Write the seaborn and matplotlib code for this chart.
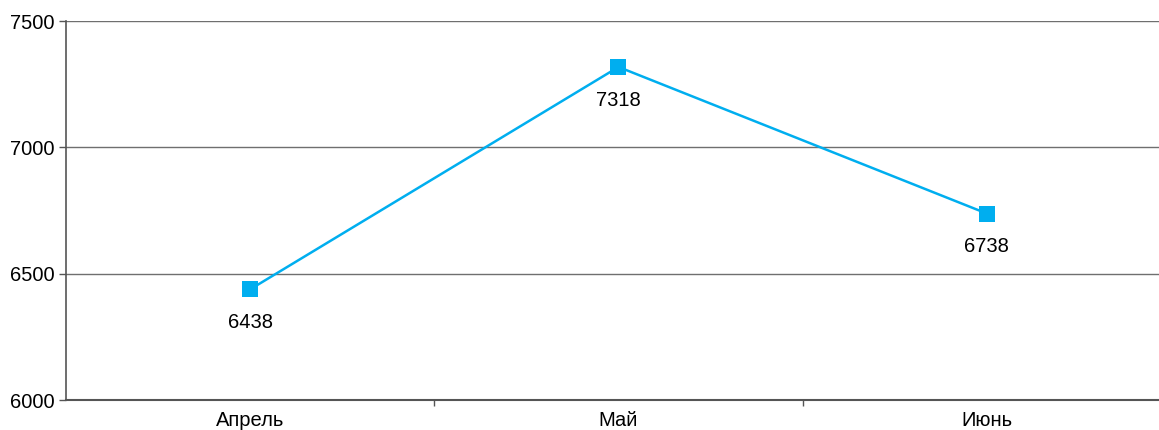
import matplotlib
matplotlib.use("Agg")
import matplotlib.pyplot as plt
import seaborn as sns
import pandas as pd

months = ["Апрель", "Май", "Июнь"]
values = [6438, 7318, 6738]

sns.set_style("white")
plt.rcParams['font.family'] = ['Liberation Sans', 'DejaVu Sans']

df = pd.DataFrame({"month": months, "value": values})

fig = plt.figure(figsize=(11.59, 4.30), dpi=100)
ax = fig.add_axes([66 / 1159, 30 / 430, 1105 / 1159, 379 / 430])

sns.lineplot(data=df, x="month", y="value", ax=ax, sort=False,
             color="#00aeef", linewidth=1.8, marker="s", markersize=11,
             markeredgewidth=0, zorder=3)

for i, v in enumerate(values):
    ax.annotate(str(v), (i, v), xytext=(0, -24), textcoords="offset points",
                ha="center", va="center", fontsize=14.5, color="black")

ax.set_xlim(-0.5, 2.5)
ax.set_ylim(6000, 7500)
ax.set_yticks([6000, 6500, 7000, 7500])
ax.yaxis.grid(True, color="#6f6f6f", linewidth=1)
ax.set_axisbelow(True)
ax.set_xlabel("")
ax.set_ylabel("")

ax.set_xticks([0, 1, 2])
ax.set_xticks([0.5, 1.5, 2.5], minor=True)
ax.tick_params(axis="x", which="major", length=0, labelsize=14.5, pad=8, labelcolor="black")
ax.tick_params(axis="x", which="minor", length=4, width=1, color="#555555", direction="out", bottom=True)
ax.tick_params(axis="y", length=5, width=1, color="#555555", labelsize=14.5, pad=3,
               direction="out", left=True, labelcolor="black")

for s in ["top", "right"]:
    ax.spines[s].set_visible(False)
ax.spines["left"].set_color("#555555")
ax.spines["bottom"].set_color("#555555")
ax.spines["left"].set_linewidth(1.2)
ax.spines["bottom"].set_linewidth(1.5)

fig.savefig("out.png", dpi=100)
